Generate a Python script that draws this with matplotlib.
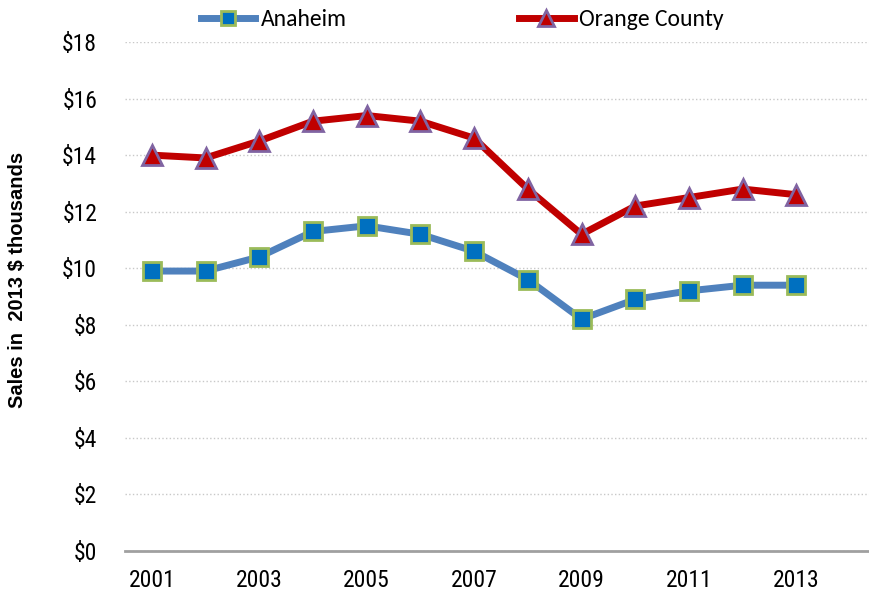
import matplotlib.pyplot as plt

years = list(range(2001, 2014))
anaheim = [9.9, 9.9, 10.4, 11.3, 11.5, 11.2, 10.6, 9.6, 8.2, 8.9, 9.2, 9.4, 9.4]
orange_county = [14.0, 13.9, 14.5, 15.2, 15.4, 15.2, 14.6, 12.8, 11.2, 12.2, 12.5, 12.8, 12.6]

yticks = list(range(0, 19, 2))
ytick_labels = ['$' + str(v) for v in yticks]
xticks = list(range(2001, 2014, 2))

fig = plt.figure(figsize=(8.69, 5.96), dpi=100)
ax = fig.add_axes([0.1438, 0.0755, 0.8654, 0.854])

ax.plot(years, anaheim, color='#4F81BD', lw=5, marker='s', ms=13,
        mfc='#0070C0', mec='#9BBB59', mew=2, label='Anaheim', zorder=3)
ax.plot(years, orange_county, color='#C00000', lw=5, marker='^', ms=15,
        mfc='#C00000', mec='#8064A2', mew=2, label='Orange County', zorder=3)

ax.set_xlim(2000.5, 2014.5)
ax.set_ylim(0, 18)
ax.set_yticks(yticks)
ax.set_yticklabels(ytick_labels)
ax.set_xticks(xticks)
ax.tick_params(length=0, labelsize=17)
ax.tick_params(axis='x', pad=13)
ax.tick_params(axis='y', pad=20)
for lab in ax.get_xticklabels() + ax.get_yticklabels():
    lab.set_family(['Roboto Condensed', 'DejaVu Sans'])

ax.grid(axis='y', color='#C8C8C8', ls=':', lw=1)
for s in ['top', 'right', 'left']:
    ax.spines[s].set_visible(False)
ax.spines['bottom'].set_color('#A0A0A0')
ax.spines['bottom'].set_linewidth(2)

ax.set_ylabel('Sales in  2013 $ thousands', fontsize=14.5, fontweight='bold',
              family='Liberation Sans', labelpad=25)
ax.yaxis.label.set_y(0.532)

ax.legend(loc='lower left', bbox_to_anchor=(0.085, 1.0), ncol=2, frameon=False,
          prop={'family': 'Carlito', 'size': 17}, handlelength=2.3, markerscale=0.75,
          columnspacing=7.3, handletextpad=0.25, borderaxespad=0.1)

fig.savefig('out.png', dpi=100)
